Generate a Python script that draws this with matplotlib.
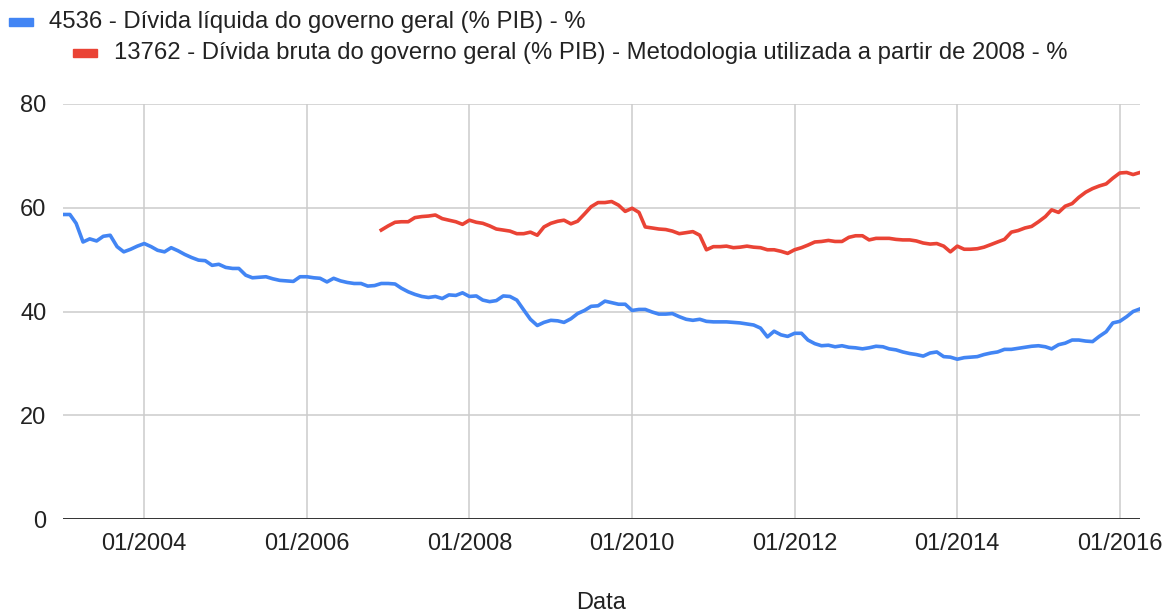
import matplotlib
matplotlib.use('Agg')
import matplotlib.pyplot as plt
import matplotlib.dates as mdates
from matplotlib.patches import Rectangle
import pandas as pd

plt.rcParams['font.family'] = ['Liberation Sans', 'DejaVu Sans']

BLUE = '#4285F4'
RED = '#EA4335'

# Monthly series, 01/2003 .. 04/2016
liquida_start = '2003-01-01'
liquida = [
    58.7, 58.7, 57.0, 53.4, 54.0, 53.6, 54.5, 54.7, 52.5, 51.5, 52.0, 52.6,
    53.1, 52.5, 51.8, 51.5, 52.3, 51.7, 51.0, 50.4, 49.9, 49.8, 48.9, 49.1,
    48.5, 48.3, 48.3, 47.0, 46.5, 46.6, 46.7, 46.3, 46.0, 45.9, 45.8, 46.7,
    46.7, 46.5, 46.4, 45.7, 46.4, 45.9, 45.6, 45.4, 45.4, 44.9, 45.0, 45.4,
    45.4, 45.3, 44.5, 43.8, 43.3, 42.9, 42.7, 42.9, 42.5, 43.2, 43.1, 43.6,
    42.9, 43.0, 42.2, 41.9, 42.1, 43.0, 42.9, 42.2, 40.3, 38.5, 37.3, 37.9,
    38.3, 38.2, 37.9, 38.6, 39.6, 40.2, 41.0, 41.1, 42.0, 41.7, 41.4, 41.4,
    40.2, 40.4, 40.4, 39.9, 39.5, 39.5, 39.6, 39.0, 38.5, 38.3, 38.5, 38.1,
    38.0, 38.0, 38.0, 37.9, 37.8, 37.6, 37.4, 36.8, 35.1, 36.2, 35.5, 35.2,
    35.8, 35.8, 34.5, 33.8, 33.4, 33.5, 33.2, 33.4, 33.1, 33.0, 32.8, 33.0,
    33.3, 33.2, 32.8, 32.6, 32.2, 31.9, 31.7, 31.4, 32.0, 32.2, 31.3, 31.2,
    30.8, 31.1, 31.2, 31.3, 31.7, 32.0, 32.2, 32.7, 32.7, 32.9, 33.1, 33.3,
    33.4, 33.2, 32.8, 33.6, 33.9, 34.5, 34.5, 34.3, 34.2, 35.2, 36.1, 37.8,
    38.1, 39.0, 40.0, 40.5,
]

# Monthly series, 12/2006 .. 04/2016
bruta_start = '2006-12-01'
bruta = [
    55.7,
    56.5, 57.2, 57.3, 57.3, 58.1, 58.3, 58.4, 58.6, 57.9, 57.6, 57.3, 56.8,
    57.6, 57.2, 57.0, 56.5, 55.9, 55.7, 55.5, 55.0, 55.0, 55.3, 54.7, 56.3,
    57.0, 57.4, 57.6, 56.9, 57.4, 58.8, 60.2, 61.0, 61.0, 61.2, 60.5, 59.3,
    59.9, 59.1, 56.3, 56.1, 55.9, 55.8, 55.5, 55.0, 55.2, 55.4, 54.7, 51.9,
    52.5, 52.5, 52.6, 52.3, 52.4, 52.6, 52.4, 52.3, 51.9, 51.9, 51.6, 51.2,
    51.9, 52.3, 52.8, 53.4, 53.5, 53.7, 53.5, 53.5, 54.3, 54.6, 54.6, 53.8,
    54.1, 54.1, 54.1, 53.9, 53.8, 53.8, 53.6, 53.2, 53.0, 53.1, 52.6, 51.5,
    52.6, 52.0, 52.0, 52.1, 52.4, 52.9, 53.4, 53.9, 55.3, 55.6, 56.1, 56.4,
    57.3, 58.3, 59.6, 59.1, 60.3, 60.8, 62.0, 63.0, 63.7, 64.2, 64.6, 65.7,
    66.7, 66.8, 66.4, 66.8,
]

labels = [
    '4536 - Dívida líquida do governo geral (% PIB) - %',
    '13762 - Dívida bruta do governo geral (% PIB) - Metodologia utilizada a partir de 2008 - %',
]
y_ticks = [0, 20, 40, 60, 80]
x_tick_years = [2004, 2006, 2008, 2010, 2012, 2014, 2016]

W, H = 1172, 613
fig = plt.figure(figsize=(W / 100, H / 100), dpi=100)
ax = fig.add_axes([63 / W, 1 - 519 / H, (1140 - 63) / W, (519 - 104) / H])

d1 = pd.date_range(liquida_start, periods=len(liquida), freq='MS')
d2 = pd.date_range(bruta_start, periods=len(bruta), freq='MS')
ax.plot(d1, liquida, color=BLUE, linewidth=2.6, solid_joinstyle='round', zorder=3)
ax.plot(d2, bruta, color=RED, linewidth=2.6, solid_joinstyle='round', zorder=3)

ax.set_xlim(d1[0], d1[-1])
ax.set_ylim(0, 80)
ax.set_yticks(y_ticks)
ax.set_xticks([pd.Timestamp(f'{y}-01-01') for y in x_tick_years])
ax.xaxis.set_major_formatter(mdates.DateFormatter('%m/%Y'))
ax.grid(True, color='#cccccc', linewidth=1.1)
ax.set_axisbelow(True)
for s in ['top', 'right', 'left', 'bottom']:
    ax.spines[s].set_visible(False)
ax.axhline(0, color='#333333', linewidth=1.4, zorder=2)
ax.tick_params(length=0, labelsize=17, colors='#222222')
ax.tick_params(axis='y', pad=12)
ax.tick_params(axis='x', pad=10)
ax.set_xlabel('Data', fontsize=17, color='#222222', va='center')
ax.xaxis.set_label_coords(0.5, -(603 - 519) / 415)

# legend drawn by hand (staggered like the original)
fig.patches.append(Rectangle((9 / W, 1 - 26 / H), 24 / W, 8 / H,
                             transform=fig.transFigure, color=BLUE))
fig.text(49 / W, 1 - 22 / H, labels[0], fontsize=17.2, color='#222222', va='center')
fig.patches.append(Rectangle((73 / W, 1 - 57 / H), 24 / W, 8 / H,
                             transform=fig.transFigure, color=RED))
fig.text(114 / W, 1 - 53 / H, labels[1], fontsize=17.2, color='#222222', va='center')

fig.savefig('out.png', dpi=100)
